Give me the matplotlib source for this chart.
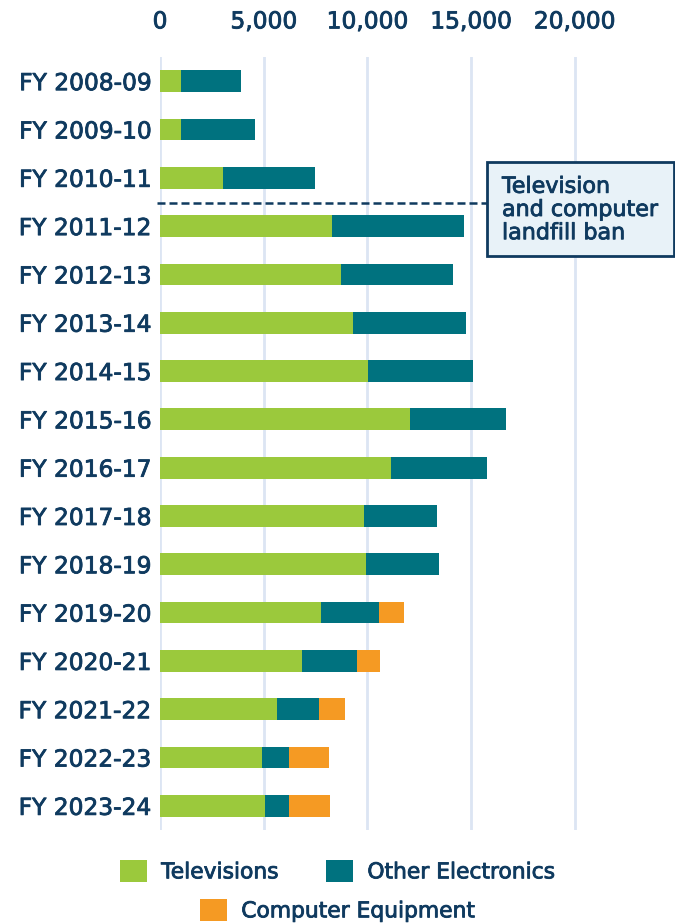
import matplotlib
matplotlib.use("Agg")
import matplotlib.pyplot as plt
import matplotlib.patheffects as pe
from matplotlib.patches import Rectangle, Patch

years = ["FY 2008-09", "FY 2009-10", "FY 2010-11", "FY 2011-12", "FY 2012-13",
         "FY 2013-14", "FY 2014-15", "FY 2015-16", "FY 2016-17", "FY 2017-18",
         "FY 2018-19", "FY 2019-20", "FY 2020-21", "FY 2021-22", "FY 2022-23",
         "FY 2023-24"]
televisions = [1000, 1000, 3020, 8280, 8740, 9320, 10030, 12050, 11140, 9820,
               9920, 7750, 6860, 5630, 4900, 5080]
other_electronics = [2890, 3570, 4450, 6410, 5420, 5450, 5050, 4630, 4660, 3520,
                     3520, 2825, 2640, 2040, 1320, 1160]
computer_equipment = [0, 0, 0, 0, 0, 0, 0, 0, 0, 0,
                      0, 1175, 1125, 1235, 1945, 1945]
x_ticks = [0, 5000, 10000, 15000, 20000]
x_tick_labels = ["0", "5,000", "10,000", "15,000", "20,000"]
ban_note = "Television\nand computer\nlandfill ban"

GREEN = "#9bc93c"
TEAL = "#00727f"
ORANGE = "#f59a23"
NAVY = "#0f3a5f"
GRID = "#dce5f3"

plt.rcParams["font.family"] = ["DejaVu Sans"]
# slightly heavier strokes for all labels
thick = [pe.withStroke(linewidth=0.6, foreground=NAVY)]

fig = plt.figure(figsize=(6.75, 9.23), dpi=100)
W, H = 675, 923
ax = fig.add_axes([160 / W, 1 - 830 / H, 456 / W, 773 / H])

ypos = list(range(len(years)))
bh = 0.45
ax.barh(ypos, televisions, height=bh, color=GREEN, zorder=3)
ax.barh(ypos, other_electronics, left=televisions, height=bh, color=TEAL, zorder=3)
left3 = [a + b for a, b in zip(televisions, other_electronics)]
ax.barh(ypos, computer_equipment, left=left3, height=bh, color=ORANGE, zorder=3)

ax.set_xlim(0, 22000)
ax.set_ylim(len(years) - 0.5, -0.5)
ax.set_yticks(ypos)
ax.set_yticklabels(years, fontsize=16.8, color=NAVY)
ax.xaxis.tick_top()
ax.set_xticks(x_ticks)
ax.set_xticklabels(x_tick_labels, fontsize=16.8, color=NAVY)
for t in ax.get_xticklabels() + ax.get_yticklabels():
    t.set_path_effects(thick)
ax.tick_params(axis="both", length=0)
ax.tick_params(axis="y", pad=6)
ax.tick_params(axis="x", pad=17)
for s in ax.spines.values():
    s.set_visible(False)
ax.grid(axis="x", color=GRID, linewidth=2, zorder=0)
ax.set_axisbelow(True)

# dashed marker between FY 2010-11 and FY 2011-12
ax.plot([-150, 15900], [2.53, 2.53], color=NAVY, linewidth=1.8,
        linestyle=(0, (3.2, 1.6)), clip_on=False, zorder=4)

# callout box
fig.patches.append(Rectangle((487 / W, 1 - 256 / H), (674 - 487) / W, (256 - 162) / H,
                             transform=fig.transFigure, facecolor="#e8f2f8",
                             edgecolor=NAVY, linewidth=2, zorder=5))
fig.text(502 / W, 1 - 210 / H, ban_note, fontsize=16, color=NAVY, va="center",
         ha="left", linespacing=1.2, zorder=6, path_effects=thick)

handles = [Patch(facecolor=GREEN, label="Televisions"),
           Patch(facecolor=TEAL, label="Other Electronics"),
           Patch(facecolor=ORANGE, label="Computer Equipment")]
leg_kw = dict(frameon=False, fontsize=15.7, labelcolor=NAVY, handlelength=1.24,
              handleheight=1.24, handletextpad=0.64, columnspacing=2.2, loc="center",
              borderpad=0.1)
leg1 = fig.legend(handles=handles[:2], ncol=2, bbox_to_anchor=(0.5, 1 - 871 / H), **leg_kw)
leg2 = fig.legend(handles=handles[2:], ncol=1, bbox_to_anchor=(0.5, 1 - 910 / H), **leg_kw)
for leg in (leg1, leg2):
    for t in leg.get_texts():
        t.set_path_effects(thick)

fig.savefig("out.png", dpi=100)
